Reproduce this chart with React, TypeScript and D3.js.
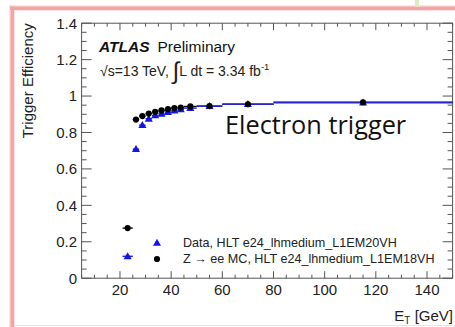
import React from "react";
import * as d3 from "d3";

// Trigger efficiency vs electron transverse energy, per ET bin
const binLow = [21, 25, 27.5, 30, 32.5, 35, 37.5, 40, 42.5, 45, 50, 60, 80];
const binHigh = [25, 27.5, 30, 32.5, 35, 37.5, 40, 42.5, 45, 50, 60, 80, 150];
const dataEff = [0.12, 0.708, 0.84, 0.875, 0.893, 0.902, 0.912, 0.92, 0.927, 0.934, 0.944, 0.955, 0.9635];
const mcEff = [0.275, 0.871, 0.89, 0.904, 0.913, 0.921, 0.928, 0.934, 0.937, 0.943, 0.945, 0.955, 0.966];

const xMajorTicks = [20, 40, 60, 80, 100, 120, 140];
const yMajorTicks = [0, 0.2, 0.4, 0.6, 0.8, 1, 1.2, 1.4];
const yTickLabels = ["0", "0.2", "0.4", "0.6", "0.8", "1", "1.2", "1.4"];

const legendLabels = [
  "Data, HLT e24_lhmedium_L1EM20VH",
  "Z \u2192 ee MC, HLT e24_lhmedium_L1EM18VH",
];

const W = 455;
const H = 327;
const left = 81.6;
const right = 452.6;
const top = 23.2;
const bottom = 278.2;
const axisColor = "#555";
const font = "'Liberation Sans', Arial, sans-serif";

export default function App() {
  const x = d3.scaleLinear().domain([5, 150]).range([left, right]);
  const y = d3.scaleLinear().domain([0, 1.4]).range([bottom, top]);

  const xMinor = d3.range(5, 150.01, 5).filter((v) => !xMajorTicks.includes(v));
  const yMinor = d3
    .range(0, 1.4001, 0.05)
    .filter((v) => !yMajorTicks.some((m) => Math.abs(m - v) < 1e-6));

  const tri = d3.symbol().type(d3.symbolTriangle).size(28)();
  const centers = binLow.map((lo, i) => (lo + binHigh[i]) / 2);

  return (
    <svg
      width={W}
      height={H}
      style={{ position: "absolute", left: 0, top: 0, background: "#fff" }}
      fontFamily={font}
    >
      {/* slide frame */}
      <rect x={0} y={0} width={W} height={H} fill="#fff" />
      <rect x={9} y={5} width={W - 9} height={6} fill="#fde3e3" />
      <rect x={9} y={5} width={6} height={H - 5} fill="#fde3e3" />
      <rect x={10} y={6.5} width={W - 10} height={3.5} fill="#f5a4a4" />
      <rect x={10.5} y={6.5} width={3.5} height={H - 6.5} fill="#f5a4a4" />
      <rect x={415} y={0} width={4} height={7} fill="#dcecc0" />
      <line x1={14} x2={W} y1={325.5} y2={325.5} stroke="#e6e6e6" strokeWidth={1} />

      {/* axis frame */}
      <rect
        x={left}
        y={top}
        width={right - left}
        height={bottom - top}
        fill="none"
        stroke={axisColor}
        strokeWidth={1}
      />

      {/* x ticks, bottom and top, pointing inward */}
      {xMajorTicks.map((v) => (
        <g key={"xM" + v}>
          <line x1={x(v)} x2={x(v)} y1={bottom} y2={bottom - 7} stroke={axisColor} />
          <line x1={x(v)} x2={x(v)} y1={top} y2={top + 7} stroke={axisColor} />
          <text x={x(v)} y={295} textAnchor="middle" fontSize={15} fill="#222">
            {v}
          </text>
        </g>
      ))}
      {xMinor.map((v) => (
        <g key={"xm" + v}>
          <line x1={x(v)} x2={x(v)} y1={bottom} y2={bottom - 3.5} stroke={axisColor} />
          <line x1={x(v)} x2={x(v)} y1={top} y2={top + 3.5} stroke={axisColor} />
        </g>
      ))}

      {/* y ticks, left and right */}
      {yMajorTicks.map((v, i) => (
        <g key={"yM" + v}>
          <line x1={left} x2={left + 10} y1={y(v)} y2={y(v)} stroke={axisColor} />
          <line x1={right} x2={right - 10} y1={y(v)} y2={y(v)} stroke={axisColor} />
          <text x={77} y={y(v) + 5.3} textAnchor="end" fontSize={15} fill="#222">
            {yTickLabels[i]}
          </text>
        </g>
      ))}
      {yMinor.map((v) => (
        <g key={"ym" + v}>
          <line x1={left} x2={left + 5} y1={y(v)} y2={y(v)} stroke={axisColor} />
          <line x1={right} x2={right - 5} y1={y(v)} y2={y(v)} stroke={axisColor} />
        </g>
      ))}

      {/* axis titles */}
      <text
        transform={`translate(33, ${top}) rotate(-90)`}
        textAnchor="end"
        fontSize={15}
        fill="#222"
      >
        Trigger Efficiency
      </text>
      <text x={453} y={321} textAnchor="end" fontSize={15} fill="#222">
        E<tspan fontSize={10} dy={3}>T</tspan>
        <tspan dy={-3}> [GeV]</tspan>
      </text>

      {/* ATLAS label */}
      <text x={99} y={52} fontSize={15.5} fill="#111">
        <tspan fontWeight="bold" fontStyle="italic">ATLAS</tspan>
        <tspan dx={8}>Preliminary</tspan>
      </text>
      <text x={100} y={76} fontSize={14} fill="#222">
        {"\u221As=13 TeV, "}
        <tspan fontSize={24} dy={3}>{"\u222B"}</tspan>
        <tspan dy={-3}>{"L dt = 3.34 fb"}</tspan>
        <tspan fontSize={9.5} dy={-6}>-1</tspan>
      </text>

      <text x={225} y={134} fontSize={25.3} fill="#111" fontFamily="'Open Sans', sans-serif">
        Electron trigger
      </text>

      {/* MC: horizontal bin bars */}
      {centers.map((c, i) => (
        <line
          key={"mcb" + i}
          x1={x(binLow[i])}
          x2={x(binHigh[i])}
          y1={y(mcEff[i])}
          y2={y(mcEff[i])}
          stroke="#000"
          strokeWidth={1.3}
        />
      ))}
      {/* Data: horizontal bin bars */}
      {centers.map((c, i) => (
        <line
          key={"db" + i}
          x1={x(binLow[i])}
          x2={x(binHigh[i])}
          y1={y(dataEff[i])}
          y2={y(dataEff[i])}
          stroke="#2626c8"
          strokeWidth={1.5}
        />
      ))}
      {centers.map((c, i) => (
        <path
          key={"dm" + i}
          d={tri ?? ""}
          transform={`translate(${x(c)}, ${y(dataEff[i]) + 0.5})`}
          fill="#1414e6"
        />
      ))}
      {centers.map((c, i) => (
        <circle key={"mm" + i} cx={x(c)} cy={y(mcEff[i])} r={3.1} fill="#000" />
      ))}

      {/* legend */}
      <path d={tri ?? ""} transform="translate(157, 243.5)" fill="#1414e6" />
      <circle cx={157} cy={259} r={3.1} fill="#000" />
      <text x={183} y={246.5} fontSize={12.6} fill="#222">
        {legendLabels[0]}
      </text>
      <text x={183} y={262.5} fontSize={12.6} fill="#222">
        {legendLabels[1]}
      </text>
    </svg>
  );
}
